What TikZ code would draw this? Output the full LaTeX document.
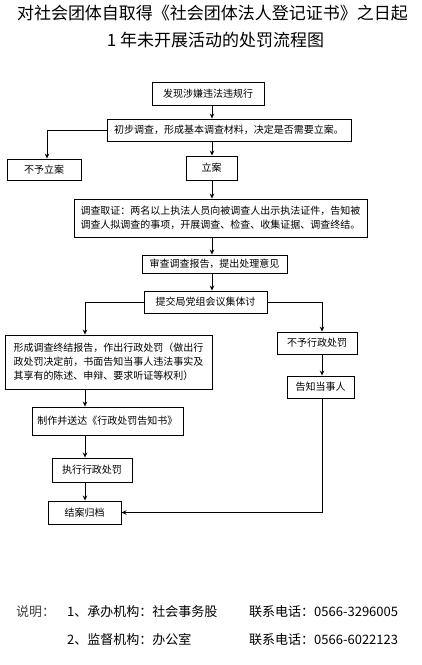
\documentclass[tikz,border=0pt]{standalone}
\usepackage{fontspec}
\setmainfont{Noto Sans CJK SC}
\usetikzlibrary{arrows.meta,calc}
\tikzset{
  bx/.style={draw=black,line width=0.9pt,inner sep=0pt,align=center,font=\fontsize{10}{14}\selectfont},
  arr/.style={line width=0.9pt,-{Stealth[length=5pt,width=4.5pt]}},
  ln/.style={line width=0.9pt},
  ttl/.style={font=\fontsize{17}{20}\selectfont},
  ft/.style={font=\fontsize{13}{16}\selectfont,anchor=west,inner sep=0pt}
}
\begin{document}
\begin{tikzpicture}[x=1pt,y=-1pt]
\useasboundingbox (0,0) rectangle (421,665);
\node[ttl] (t1) at (212.5,13) {对社会团体自取得《社会团体法人登记证书》之日起};
\node[ttl] (t2) at (215.5,40) {1 年未开展活动的处罚流程图};

\coordinate (x212) at (212,0);
\coordinate (x85) at (85,0);
\coordinate (x322) at (322,0);
\coordinate (x47) at (47,0);

\node[bx,minimum width=112pt,minimum height=23pt] (b1) at (208,93.5) {发现涉嫌违法违规行};
\node[bx,minimum width=244pt,minimum height=22pt] (b2) at (229,130) {初步调查，形成基本调查材料，决定是否需要立案。};
\node[bx,minimum width=74pt,minimum height=21pt] (n1) at (44,169.5) {不予立案};
\node[bx,minimum width=51pt,minimum height=24pt] (b3) at (211.5,168) {立案};
\node[bx,minimum width=293pt,minimum height=38pt,align=left] (b4) at (220.5,218) {调查取证：两名以上执法人员向被调查人出示执法证件，告知被\\调查人拟调查的事项，开展调查、检查、收集证据、调查终结。};
\node[bx,minimum width=145pt,minimum height=18pt] (b5) at (214.5,264) {审查调查报告，提出处理意见};
\node[bx,minimum width=123pt,minimum height=22pt] (b6) at (205.5,302) {提交局党组会议集体讨};
\node[bx,minimum width=207pt,minimum height=54pt,align=left] (b7) at (108.5,362) {形成调查终结报告，作出行政处罚（做出行\\政处罚决定前，书面告知当事人违法事实及\\其享有的陈述、申辩、要求听证等权利）};
\node[bx,minimum width=80pt,minimum height=22pt] (b8) at (317,343) {不予行政处罚};
\node[bx,minimum width=67pt,minimum height=22pt] (b9) at (320.5,387) {告知当事人};
\node[bx,minimum width=151pt,minimum height=28pt] (b10) at (107.5,421) {制作并送达《行政处罚告知书》};
\node[bx,minimum width=80pt,minimum height=24pt] (b11) at (92,470) {执行行政处罚};
\node[bx,minimum width=73pt,minimum height=23pt] (b12) at (84.5,512.5) {结案归档};

\draw[arr] (b1.south -| x212) -- (b2.north -| x212);
\draw[arr] (b2.west) -| (n1.north -| x47);
\draw[arr] (b2.south -| x212) -- (b3.north -| x212);
\draw[arr] (b3.south -| x212) -- (b4.north -| x212);
\draw[arr] (b4.south -| x212) -- (b5.north -| x212);
\draw[arr] (b5.south -| x212) -- (b6.north -| x212);
\draw[arr] (b6.west) -| (b7.north -| x85);
\draw[arr] (b6.east) -| (b8.north -| x322);
\draw[arr] (b8.south -| x322) -- (b9.north -| x322);
\draw[arr] (b7.south -| x85) -- (b10.north -| x85);
\draw[arr] (b10.south -| x85) -- (b11.north -| x85);
\draw[arr] (b11.south -| x85) -- (b12.north -| x85);
\draw[arr] (b9.south -| x322) |- (b12.east);

\node[ft,text=black!75] (f0) at (16,612) {说明：};
\node[ft] (f1) at (67,612) {1、承办机构：社会事务股};
\node[ft] (f2) at (249,612) {联系电话：0566-3296005};
\node[ft] (f3) at (67,640) {2、监督机构：办公室};
\node[ft] (f4) at (249,640) {联系电话：0566-6022123};
\end{tikzpicture}
\end{document}
